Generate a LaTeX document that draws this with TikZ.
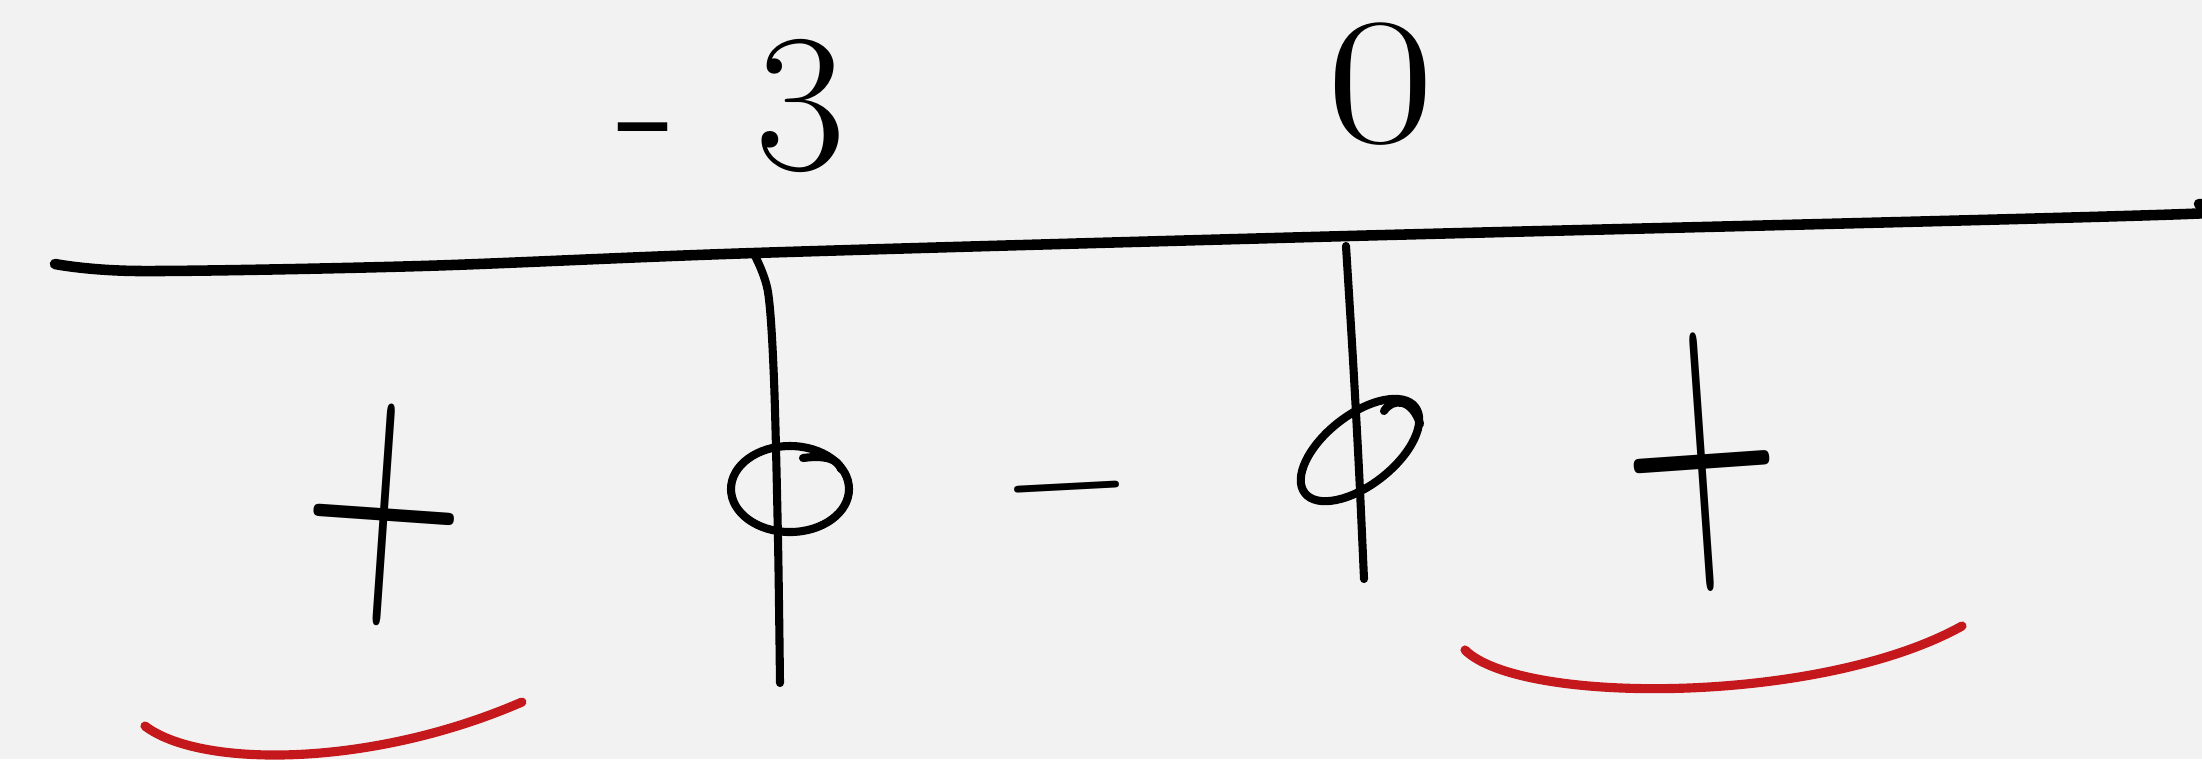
\documentclass[tikz,border=0pt]{standalone}
\usepackage{fontspec}
\usepackage{graphicx}
\definecolor{paper}{RGB}{242,242,242}
\definecolor{marker}{RGB}{196,24,28}
\begin{document}
\begin{tikzpicture}[x=0.01cm, y=-0.01cm,
	pen/.style={line width=2.3pt, line cap=round, line join=round},
	redpen/.style={pen, draw=marker, line width=2.6pt},
	sign/.style={inner sep=0pt, font=\fontsize{56}{60}\selectfont}]
	\fill [paper] (0, 0) rectangle (2202, 759);
	\useasboundingbox (0, 0) rectangle (2202, 759);
	% number line
	\draw [pen, line width=3pt] plot [smooth] coordinates {(55,264) (140,271) (421,266) (754,253) (1348,236) (2186,214) (2199,204)};
	\node [sign] (minusthree) at (732, 106) {-\hspace{0.4em}3};
	\node [sign] (zero) at (1381, 84) {\scalebox{1.2}[0.92]{0}};
	% zeros
	\draw [pen] plot [smooth] coordinates {(754,254) (768,292) (774,380) (778,540) (780,683)};
	\draw [pen] (790,489) ellipse [x radius=59, y radius=43];
	\draw [pen] (803,458) .. controls (825,455) and (838,459) .. (841,469);
	\draw [pen] plot [smooth] coordinates {(1346,246) (1353,360) (1359,470) (1364,579)};
	\draw [pen, rotate around={38:(1360,450)}] (1360,450) ellipse [x radius=70, y radius=35];
	\draw [pen] (1384,411) .. controls (1392,398) and (1412,398) .. (1420,424);
	% signs
	\node [sign, rotate=-4] (plusleft) at (384, 515) {\scalebox{1.14}[1.8]{+}};
	\node [sign, rotate=3] (minusmid) at (1068, 510) {\scalebox{0.85}[1]{−}};
	\node [sign, rotate=4] (plusright) at (1702, 462) {\scalebox{1.1}[2.1]{+}};
	% red marks
	\draw [redpen] (145,726) .. controls (200,768) and (370,768) .. (522,702);
	\draw [redpen] (1465,650) .. controls (1520,705) and (1820,705) .. (1962,626);
\end{tikzpicture}
\end{document}
